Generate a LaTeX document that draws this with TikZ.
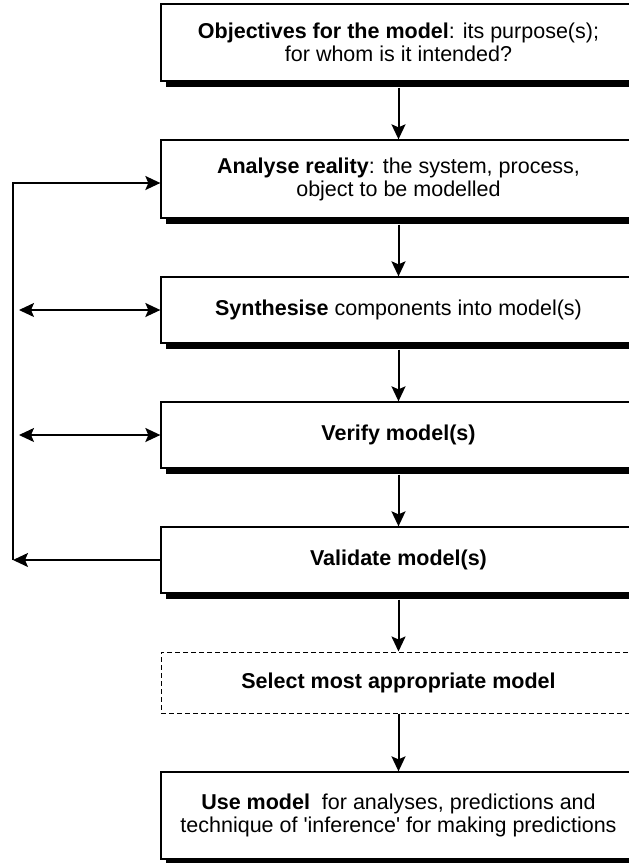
\documentclass[tikz,border=0pt]{standalone}
\usepackage{fontspec}
\setmainfont{Liberation Sans}
\usetikzlibrary{arrows.meta,shadows}
\begin{document}
\begin{tikzpicture}[x=1pt,y=-1pt,
  arw/.tip={Stealth[length=15pt,width=14pt,inset=3pt]},
  txt/.style={align=center,inner sep=0pt,minimum width=475pt,font=\fontsize{21.5}{23}\selectfont},
  box/.style={txt,draw,line width=1.3pt,fill=white,
    drop shadow={shadow xshift=4.5pt,shadow yshift=-6pt,fill=black,opacity=1}},
  dbox/.style={txt,draw,line width=1pt,dash pattern=on 5pt off 3pt,fill=white},
  flow/.style={line width=2pt,-{arw}},
  side/.style={line width=1.6pt}
]
\useasboundingbox (0,0) rectangle (629,863);

\node[box,minimum height=77pt] (b1) at (398.5,42.5)
  {\textbf{Objectives for the model}: its purpose(s);\\for whom is it intended?};
\node[box,minimum height=78pt] (b2) at (398.5,179)
  {\textbf{Analyse reality}: the system, process,\\object to be modelled};
\node[box,minimum height=66pt] (b3) at (398.5,310)
  {\textbf{Synthesise} components into model(s)};
\node[box,minimum height=66pt] (b4) at (398.5,435)
  {\textbf{Verify model(s)}};
\node[box,minimum height=66pt] (b5) at (398.5,560)
  {\textbf{Validate model(s)}};
\node[dbox,minimum height=61pt] (b6) at (398.5,682.5)
  {\textbf{Select most appropriate model}};
\node[box,minimum height=87pt] (b7) at (398.5,815.5)
  {\textbf{Use model}\ \ for analyses, predictions and\\technique of \textquotesingle inference\textquotesingle{} for making predictions};

\draw[flow] ([yshift=-6pt]b1.south) -- (b2.north);
\draw[flow] ([yshift=-6pt]b2.south) -- (b3.north);
\draw[flow] ([yshift=-6pt]b3.south) -- (b4.north);
\draw[flow] ([yshift=-6pt]b4.south) -- (b5.north);
\draw[flow] ([yshift=-6pt]b5.south) -- (b6.north);
\draw[flow] (b6.south) -- (b7.north);

\coordinate (lv) at (13,560);
\coordinate (l3) at (19,310);
\coordinate (l4) at (19,435);
\draw[side,-{arw}] (b5.west) -- (lv);
\draw[side,-{arw}] (lv) |- ([yshift=-4pt]b2.west);
\draw[side,{arw}-{arw}] (l3) -- (b3.west);
\draw[side,{arw}-{arw}] (l4) -- (b4.west);
\end{tikzpicture}
\end{document}
